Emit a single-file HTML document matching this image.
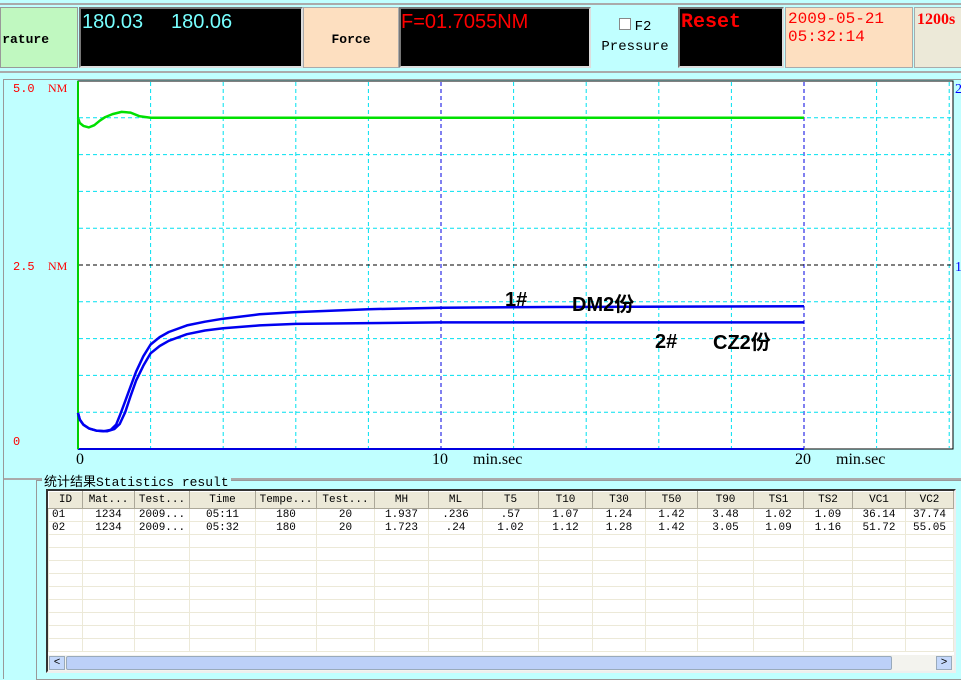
<!DOCTYPE html>
<html><head><meta charset="utf-8"><style>
body{margin:0;width:961px;height:675px;overflow:hidden;background:#c0ffff;position:relative;font-family:"Liberation Mono","Noto Sans CJK SC",monospace}
.a{position:absolute;box-sizing:border-box}
.blk{background:#000;border:2px solid #777;border-right-color:#ddd;border-bottom-color:#ddd}
table{border-collapse:collapse;font-size:11px;table-layout:fixed}
td,th{border:1px solid #ece9d8;height:12px;padding:0;text-align:center;font-weight:normal;overflow:hidden;white-space:nowrap;line-height:12px}
th{background:#ece9d8;border:1px solid #fff;border-right-color:#aca899;border-bottom-color:#aca899;height:16px}
</style></head><body>
<div class="a" style="left:0;top:3px;width:961px;height:70px;border-top:2px solid #aaa;border-bottom:2px solid #aaa"></div>
<div class="a" style="left:0;top:7px;width:78px;height:61px;background:#c0f8c0;border:1px solid #999;font:bold 13px 'Liberation Mono',monospace;padding-top:24px;text-align:right;padding-right:28px">rature</div>
<div class="a blk" style="left:79px;top:7px;width:224px;height:61px;color:#7ff;font:20px 'Liberation Sans',sans-serif;padding:0 0 0 1px;line-height:26px">180.03&nbsp;&nbsp;&nbsp;&nbsp;&nbsp;180.06</div>
<div class="a" style="left:303px;top:7px;width:96px;height:61px;background:#fddfc0;border:1px solid #aaa;font:bold 13px 'Liberation Mono',monospace;text-align:center;padding-top:24px">Force</div>
<div class="a blk" style="left:399px;top:7px;width:192px;height:61px;color:#f00;font:20px 'Liberation Sans',sans-serif;line-height:26px">F=01.7055NM</div>
<div class="a" style="left:593px;top:7px;width:84px;height:61px;text-align:center;font:14px 'Liberation Mono',monospace;padding-top:10px;line-height:20px"><span style="display:inline-block;width:10px;height:10px;border:1px solid #888;background:#fff;margin-right:4px"></span>F2<br>Pressure</div>
<div class="a blk" style="left:678px;top:7px;width:106px;height:61px;color:#f00;font:bold 20px 'Liberation Mono',monospace;line-height:28px;padding-left:1px">Reset</div>
<div class="a" style="left:785px;top:7px;width:128px;height:61px;background:#fddfc0;border:1px solid #aaa;color:#f00;font:16px 'Liberation Mono',monospace;line-height:18px;padding:2px 0 0 2px">2009-05-21<br>05:32:14</div>
<div class="a" style="left:914px;top:7px;width:60px;height:61px;background:#ece9d8;border:1px solid #aaa;color:#f00;font:bold 16px 'Liberation Serif',serif;padding:3px 0 0 2px">1200s</div>
<div class="a" style="left:3px;top:79px;width:960px;height:600px;border-left:1px solid #999;border-top:1px solid #999"></div>
<svg class="a" style="left:0;top:0" width="961" height="675">
<g id="plot"></g>
</svg>
<div class="a" style="left:4px;top:478px;width:957px;border-top:2px solid #aaa"></div>
<div class="a" style="left:36px;top:480px;width:930px;height:200px;border:1px solid #999"></div>
<div class="a" style="left:42px;top:471px;background:#c0ffff;font-size:13px;padding:0 2px;font-family:'Liberation Mono','Noto Sans CJK SC',monospace">统计结果Statistics result</div>
<div class="a" style="left:46px;top:489px;width:910px;height:184px;border:2px solid #333;border-right-color:#eee;border-bottom-color:#eee;background:#fff;overflow:hidden">
<table id="tbl" style="width:905px"></table>
<div class="a" style="left:0;top:164px;width:906px;height:16px;background:#f3f3ee">
<div class="a" style="left:1px;top:1px;width:16px;height:14px;background:#c4d8fb;border:1px solid #9ab;font-size:11px;text-align:center">&lt;</div>
<div class="a" style="left:18px;top:1px;width:826px;height:14px;background:#bcd0f8;border:1px solid #9ab;border-radius:2px"></div>
<div class="a" style="left:888px;top:1px;width:16px;height:14px;background:#c4d8fb;border:1px solid #9ab;font-size:11px;text-align:center">&gt;</div>
</div></div>
<script>
const t1=[0,0.05,0.15,0.3,0.5,0.7,0.9,1.05,1.15,1.3,1.45,1.6,1.8,2,2.25,2.5,3,3.5,4,5,6,8,10,13,20];
const v1=[0.49,0.4,0.33,0.28,0.25,0.24,0.26,0.33,0.45,0.65,0.85,1.05,1.26,1.42,1.52,1.59,1.68,1.73,1.77,1.83,1.86,1.9,1.92,1.93,1.94];
const t2=[0,0.05,0.15,0.3,0.5,0.8,1.0,1.15,1.3,1.45,1.6,1.8,2,2.25,2.5,3,3.5,4,5,6,8,10,20];
const v2=[0.49,0.4,0.33,0.28,0.25,0.24,0.27,0.34,0.5,0.72,0.93,1.13,1.3,1.4,1.47,1.56,1.61,1.64,1.68,1.7,1.71,1.72,1.72];
const tg=[0,0.05,0.15,0.3,0.45,0.6,0.75,0.95,1.2,1.45,1.7,2,20];
const vg=[4.5,4.43,4.39,4.37,4.4,4.46,4.51,4.55,4.58,4.57,4.52,4.5,4.5];
const yTicks=[["5.0",5],["2.5",2.5],["0",0]];
const xTicks=[["0",0],["10",10],["20",20]];
const cols=["ID","Mat...","Test...","Time","Tempe...","Test...","MH","ML","T5","T10","T30","T50","T90","TS1","TS2","VC1","VC2"];
const row1=["01","1234","2009...","05:11","180","20","1.937",".236",".57","1.07","1.24","1.42","3.48","1.02","1.09","36.14","37.74"];
const row2=["02","1234","2009...","05:32","180","20","1.723",".24","1.02","1.12","1.28","1.42","3.05","1.09","1.16","51.72","55.05"];
const widths=[34,52,55,66,61,58,54,54,56,54,53,52,56,50,49,53,48];
const X=t=>78+t*36.3, Y=v=>449-v*73.6;
const g=document.getElementById('plot'),NS='http://www.w3.org/2000/svg';
function mk(tag,at,txt){const e=document.createElementNS(NS,tag);for(const k in at)e.setAttribute(k,at[k]);if(txt!=null)e.textContent=txt;g.appendChild(e);return e;}
let e=mk('rect',{x:78,y:81,width:875,height:368,fill:'#fff',stroke:'#000'});

for(let i=1;i<24;i++){const x=X(i*2);if(x>952)break;e=mk('line',{x1:x,x2:x,y1:82,y2:448,stroke:(i%5==0)?'#0000e0':'#00e0f0','stroke-dasharray':'4,3'});}
for(let i=1;i<10;i++){const y=Y(i*0.5);e=mk('line',{x1:79,x2:952,y1:y,y2:y,stroke:i==5?'#000':'#00e0f0','stroke-dasharray':'4,3'});}
e=mk('line',{x1:78,x2:X(20),y1:449,y2:449,stroke:'#0000e0','stroke-width':2});
e=mk('line',{x1:78,x2:78,y1:81,y2:449,stroke:'#00d000','stroke-width':2});
function pl(t,v,c,n){const d=t.map((tt,i)=>X(tt).toFixed(1)+','+Y(v[i]).toFixed(1)).join(' ');const p=mk('polyline',{points:d,fill:'none',stroke:c,'stroke-width':2.5,'stroke-linejoin':'round'});}
pl(tg,vg,'#00e000','pressure-line');pl(t1,v1,'#0000f0','curve-1');pl(t2,v2,'#0000f0','curve-2');
yTicks.forEach(([l,v])=>{e=mk('text',{x:13,y:Y(v)+(v==5?11:v==0?-4:5),fill:'#f00','font-size':12,'font-family':'Liberation Mono'},l);
 if(v!=0){e=mk('text',{x:48,y:Y(v)+(v==5?11:5),fill:'#f00','font-size':12,'font-family':'Liberation Serif'},'NM');}});
e=mk('text',{x:955,y:Y(5)+12,fill:'#00f','font-size':14,'font-family':'Liberation Serif'},'2');
e=mk('text',{x:955,y:Y(2.5)+6,fill:'#00f','font-size':14,'font-family':'Liberation Serif'},'1');
xTicks.forEach(([l,v])=>{e=mk('text',{x:X(v)+(v?-9:-2),y:464,fill:'#000','font-size':16,'font-family':'Liberation Serif'},l);
 if(v){e=mk('text',{x:X(v)+32,y:464,fill:'#000','font-size':16,'font-family':'Liberation Serif'},'min.sec');}});
[["1#",505,306],["DM2份",572,311],["2#",655,348],["CZ2份",713,349]].forEach(([s,x,y])=>{e=mk('text',{x:x,y:y,fill:'#000','font-size':20,'font-weight':'bold','font-family':'Liberation Sans,Noto Sans CJK SC,sans-serif'},s);});
const tb=document.getElementById('tbl');
let h='<colgroup>'+widths.map(w=>'<col style="width:'+w+'px">').join('')+'</colgroup><tr>'+cols.map(c=>'<th>'+c+'</th>').join('')+'</tr>';
[row1,row2].forEach((r,i)=>{h+='<tr>'+r.map((c,j)=>'<td'+(j==0?' style="text-align:left;padding-left:3px"':'')+'>'+c+'</td>').join('')+'</tr>';});
for(let i=0;i<9;i++)h+='<tr>'+cols.map(()=>'<td></td>').join('')+'</tr>';
tb.innerHTML=h;
</script>
</body></html>
